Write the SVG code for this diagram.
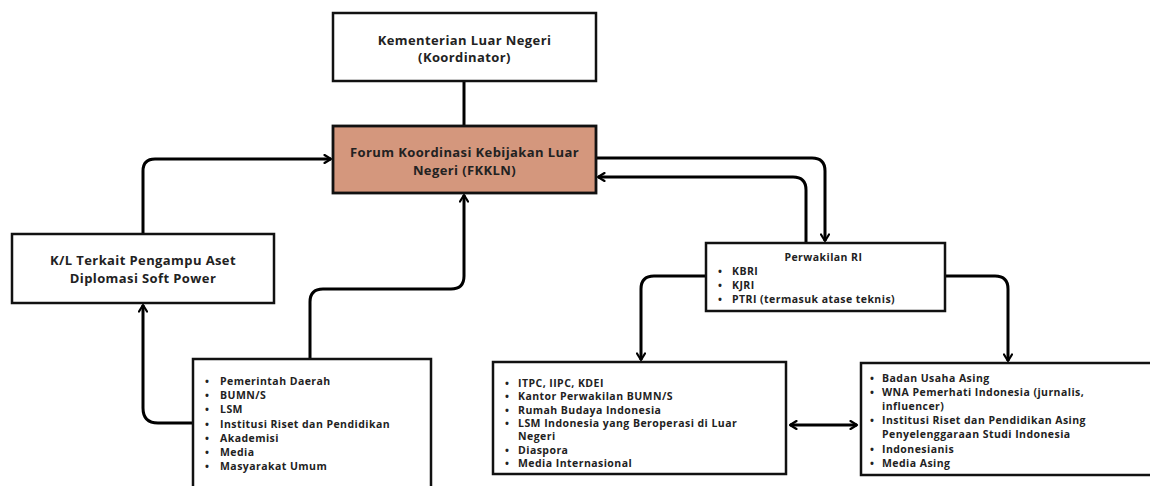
<svg xmlns="http://www.w3.org/2000/svg" width="1150" height="486" viewBox="0 0 1150 486">
<style>
.box{fill:#fff;stroke:#111;stroke-width:2.5}
.hl{fill:#d4977d;stroke:#111;stroke-width:2.8}
.t{font-family:"Open Sans","Liberation Sans",sans-serif;font-weight:700;fill:#222;font-size:13px;letter-spacing:0.4px}
.s{font-family:"Open Sans","Liberation Sans",sans-serif;font-weight:700;fill:#222;font-size:10.5px;letter-spacing:0.45px}
.c{fill:none;stroke:#000;stroke-width:3}
</style>
<defs>
<marker id="arr" viewBox="0 0 10 10" refX="8.5" refY="5" markerWidth="10" markerHeight="10" markerUnits="userSpaceOnUse" orient="auto-start-reverse">
<path d="M2,1 L8.5,5 L2,9" fill="none" stroke="#000" stroke-width="2.2" stroke-linecap="round" stroke-linejoin="round"/>
</marker>
</defs>
<rect width="1150" height="486" fill="#fff"/>
<g id="connectors">
<path class="c" d="M464,81 V126"/>
<path class="c" d="M143,234 V171 Q143,159 155,159 H331" marker-end="url(#arr)"/>
<path class="c" d="M310,359 V302 Q310,289 323,289 H451 Q464,289 464,276 V195" marker-end="url(#arr)"/>
<path class="c" d="M193,423 H158 Q143,423 143,408 V305" marker-end="url(#arr)"/>
<path class="c" d="M596,158 H812 Q825,158 825,171 V241" marker-end="url(#arr)"/>
<path class="c" d="M806,243 V190 Q806,177 793,177 H598" marker-end="url(#arr)"/>
<path class="c" d="M706,276 H654 Q641,276 641,289 V360" marker-end="url(#arr)"/>
<path class="c" d="M945,276 H995 Q1008,276 1008,289 V361" marker-end="url(#arr)"/>
<path class="c" d="M790,425 H857" marker-start="url(#arr)" marker-end="url(#arr)"/>
</g>
<g id="kemlu">
<rect class="box" x="333" y="13" width="263" height="68"/>
<text class="t" x="464.5" text-anchor="middle"><tspan x="464.5" y="44.5">Kementerian Luar Negeri</tspan><tspan x="464.5" y="61.5">(Koordinator)</tspan></text>
</g>
<g id="fkkln">
<rect class="hl" x="333" y="126" width="263" height="67"/>
<text class="t" x="464.5" text-anchor="middle"><tspan x="464.5" y="156.5">Forum Koordinasi Kebijakan Luar</tspan><tspan x="464.5" y="174.5">Negeri (FKKLN)</tspan></text>
</g>
<g id="kl">
<rect class="box" x="12" y="234" width="262" height="69"/>
<text class="t" x="143" text-anchor="middle"><tspan x="143" y="264.5">K/L Terkait Pengampu Aset</tspan><tspan x="143" y="282.5">Diplomasi Soft Power</tspan></text>
</g>
<g id="domestik">
<rect class="box" x="193" y="359" width="238" height="135"/>
<text class="s">
<tspan x="205" y="384.6">•</tspan><tspan x="220" y="384.6">Pemerintah Daerah</tspan>
<tspan x="205" y="398.9">•</tspan><tspan x="220" y="398.9">BUMN/S</tspan>
<tspan x="205" y="413.2">•</tspan><tspan x="220" y="413.2">LSM</tspan>
<tspan x="205" y="427.5">•</tspan><tspan x="220" y="427.5">Institusi Riset dan Pendidikan</tspan>
<tspan x="205" y="441.8">•</tspan><tspan x="220" y="441.8">Akademisi</tspan>
<tspan x="205" y="456.1">•</tspan><tspan x="220" y="456.1">Media</tspan>
<tspan x="205" y="470.4">•</tspan><tspan x="220" y="470.4">Masyarakat Umum</tspan>
</text>
</g>
<g id="perwakilan">
<rect class="box" x="706" y="243" width="239" height="68"/>
<text class="s">
<tspan x="825" y="260.8" text-anchor="middle">Perwakilan RI</tspan>
<tspan x="718" y="274.8">•</tspan><tspan x="732" y="274.8">KBRI</tspan>
<tspan x="718" y="288.8">•</tspan><tspan x="732" y="288.8">KJRI</tspan>
<tspan x="718" y="302.8">•</tspan><tspan x="732" y="302.8">PTRI (termasuk atase teknis)</tspan>
</text>
</g>
<g id="luarnegeri-id">
<rect class="box" x="493" y="362" width="293" height="112"/>
<text class="s">
<tspan x="505" y="386.8">•</tspan><tspan x="518" y="386.8">ITPC, IIPC, KDEI</tspan>
<tspan x="505" y="400.2">•</tspan><tspan x="518" y="400.2">Kantor Perwakilan BUMN/S</tspan>
<tspan x="505" y="413.5">•</tspan><tspan x="518" y="413.5">Rumah Budaya Indonesia</tspan>
<tspan x="505" y="426.8">•</tspan><tspan x="518" y="426.8">LSM Indonesia yang Beroperasi di Luar</tspan>
<tspan x="518" y="440.2">Negeri</tspan>
<tspan x="505" y="453.5">•</tspan><tspan x="518" y="453.5">Diaspora</tspan>
<tspan x="505" y="466.8">•</tspan><tspan x="518" y="466.8">Media Internasional</tspan>
</text>
</g>
<g id="asing">
<rect class="box" x="861" y="363" width="300" height="112"/>
<text class="s">
<tspan x="870" y="381.6">•</tspan><tspan x="882" y="381.6">Badan Usaha Asing</tspan>
<tspan x="870" y="395.8">•</tspan><tspan x="882" y="395.8">WNA Pemerhati Indonesia (jurnalis,</tspan>
<tspan x="882" y="410">influencer)</tspan>
<tspan x="870" y="424.2">•</tspan><tspan x="882" y="424.2">Institusi Riset dan Pendidikan Asing</tspan>
<tspan x="882" y="438.4">Penyelenggaraan Studi Indonesia</tspan>
<tspan x="870" y="452.6">•</tspan><tspan x="882" y="452.6">Indonesianis</tspan>
<tspan x="870" y="466.8">•</tspan><tspan x="882" y="466.8">Media Asing</tspan>
</text>
</g>
</svg>
